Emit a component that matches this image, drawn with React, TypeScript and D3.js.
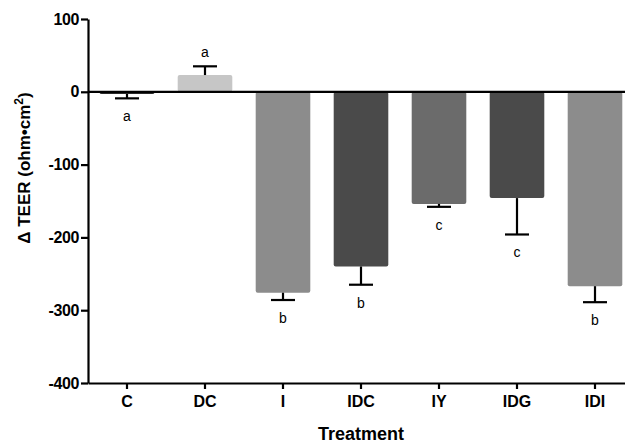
import React, { useEffect, useRef } from 'react';
import * as d3 from 'd3';

const treatments = ['C', 'DC', 'I', 'IDC', 'IY', 'IDG', 'IDI'];
const means = [-3, 23, -276, -240, -154, -146, -267];
const errors = [6, 12, 10, 25, 4, 50, 22];
const letters = ['a', 'a', 'b', 'b', 'c', 'c', 'b'];
const barColors = ['#2a2a2a', '#c6c6c6', '#8c8c8c', '#4a4a4a', '#6b6b6b', '#4a4a4a', '#8c8c8c'];
const yTicks = [100, 0, -100, -200, -300, -400];

const W = 625;
const H = 443;

const App = () => {
    const ref = useRef<SVGSVGElement>(null);

    useEffect(() => {
        const margin = { top: 19, right: -9, bottom: 60, left: 88 };
        const svg = d3.select(ref.current);
        svg.selectAll('*').remove();
        const font = 'Liberation Sans, Arial, sans-serif';

        const x = d3.scaleBand<string>()
            .domain(treatments)
            .range([margin.left, W - margin.right])
            .paddingInner(0.3)
            .paddingOuter(0.15);

        const y = d3.scaleLinear()
            .domain([-400, 100])
            .range([H - margin.bottom, margin.top]);

        const data = treatments.map((t, i) => ({ t, m: means[i], e: errors[i], l: letters[i], c: barColors[i] }));

        // bars
        svg.append('g')
            .selectAll('rect')
            .data(data)
            .join('rect')
            .attr('x', (d) => x(d.t)!)
            .attr('width', x.bandwidth())
            .attr('y', (d) => y(Math.max(0, d.m)))
            .attr('height', (d) => Math.abs(y(d.m) - y(0)))
            .attr('rx', 2)
            .attr('fill', (d) => d.c);

        // error bars (one-sided, away from zero)
        const eb = svg.append('g').attr('stroke', 'black').attr('stroke-width', 2.2);
        data.forEach((d) => {
            const cx = x(d.t)! + x.bandwidth() / 2;
            const end = d.m >= 0 ? d.m + d.e : d.m - d.e;
            eb.append('line').attr('x1', cx).attr('x2', cx).attr('y1', y(d.m)).attr('y2', y(end));
            eb.append('line').attr('x1', cx - 12).attr('x2', cx + 12).attr('y1', y(end)).attr('y2', y(end));
        });

        // significance letters
        svg.append('g')
            .selectAll('text')
            .data(data)
            .join('text')
            .attr('x', (d) => x(d.t)! + x.bandwidth() / 2)
            .attr('y', (d) => (d.m >= 0 ? y(d.m + d.e) - 9 : y(d.m - d.e) + 23))
            .attr('text-anchor', 'middle')
            .style('font-family', font)
            .style('font-size', '14px')
            .text((d) => d.l);

        // zero line
        svg.append('line')
            .attr('x1', margin.left).attr('x2', W)
            .attr('y1', y(0)).attr('y2', y(0))
            .attr('stroke', 'black').attr('stroke-width', 2.2);

        // y axis
        svg.append('g')
            .attr('transform', `translate(${margin.left},0)`)
            .call(d3.axisLeft(y).tickValues(yTicks).tickFormat((d) => String(d)).tickSize(7).tickSizeOuter(0).tickPadding(2))
            .call((g) => g.selectAll('path, line').attr('stroke', 'black').attr('stroke-width', 2.2))
            .selectAll('text')
            .attr('fill', 'black')
            .style('font-family', font)
            .style('font-size', '16px')
            .style('letter-spacing', '-0.4px')
            .style('font-weight', 'bold');

        // x axis
        svg.append('g')
            .attr('transform', `translate(0,${y(-400)})`)
            .call(d3.axisBottom(x).tickSize(6).tickSizeOuter(0).tickPadding(7))
            .call((g) => g.selectAll('path, line').attr('stroke', 'black').attr('stroke-width', 2.2))
            .selectAll('text')
            .attr('fill', 'black')
            .style('font-family', font)
            .style('font-size', '16px')
            .style('font-weight', 'bold');

        // axis titles
        svg.append('text')
            .attr('x', 361)
            .attr('y', 440)
            .attr('text-anchor', 'middle')
            .style('font-family', font)
            .style('font-size', '18px')
            .style('font-weight', 'bold')
            .text('Treatment');

        const yl = svg.append('text')
            .attr('transform', `translate(30,168) rotate(-90)`)
            .attr('text-anchor', 'middle')
            .style('font-family', font)
            .style('font-size', '17px')
            .style('font-weight', 'bold');
        yl.append('tspan').text('Δ TEER (ohm•cm');
        yl.append('tspan').attr('dy', -7).style('font-size', '12px').text('2');
        yl.append('tspan').attr('dy', 7).text(')');
    }, []);

    return (
        <svg ref={ref} width={W} height={H}
            style={{ position: 'absolute', left: 0, top: 0, background: 'white' }} />
    );
};

export default App;
